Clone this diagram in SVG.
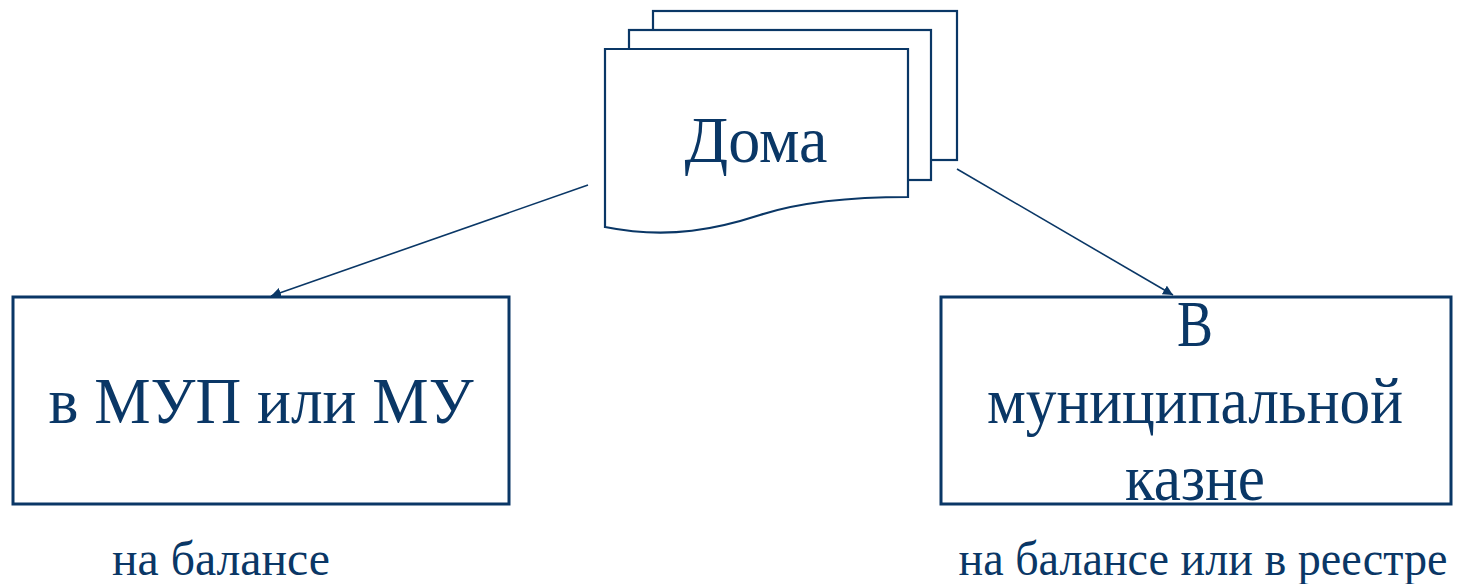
<svg xmlns="http://www.w3.org/2000/svg" width="1471" height="584" viewBox="0 0 1471 584">
<style>
.sh{fill:#fff;stroke:#0a3766;stroke-width:2.2}
.bx{fill:#fff;stroke:#0a3766;stroke-width:3}
.t{font-family:"Liberation Serif","DejaVu Serif Condensed","DejaVu Serif",serif;fill:#0a3766;text-anchor:middle}
.big{font-size:65px}
.sm{font-size:48px}
.cn{stroke:#0a3766;stroke-width:1.6;fill:none;marker-end:url(#ah)}
</style>
<defs>
<marker id="ah" viewBox="0 0 10 10" refX="10" refY="5" markerWidth="10" markerHeight="10" markerUnits="userSpaceOnUse" orient="auto">
<path d="M0,0 L10,5 L0,10 z" fill="#0a3766"/>
</marker>
</defs>
<rect width="1471" height="584" fill="#fff"/>
<g id="node-doma">
<rect class="sh" x="653" y="11" width="304" height="149"/>
<rect class="sh" x="629" y="30" width="302" height="150"/>
<path class="sh" d="M605,49 L908,49 L908,197 C850,197 800,202 760,215 C720,228 670,240 605,227 Z"/>
<text class="t big" x="756" y="162" textLength="143" lengthAdjust="spacingAndGlyphs">Дома</text>
</g>
<g id="node-mup">
<rect class="bx" x="13" y="297" width="496" height="207"/>
<text class="t big" x="261" y="423" textLength="425" lengthAdjust="spacingAndGlyphs">в МУП или МУ</text>
</g>
<g id="node-kazna">
<rect class="bx" x="941" y="297" width="510" height="207"/>
<text class="t big" x="1195" y="346" textLength="36" lengthAdjust="spacingAndGlyphs">В</text>
<text class="t big" x="1195" y="423" textLength="416" lengthAdjust="spacingAndGlyphs">муниципальной</text>
<text class="t big" x="1195" y="500" textLength="140" lengthAdjust="spacingAndGlyphs">казне</text>
</g>
<g id="label-left">
<text class="t sm" x="221" y="575" textLength="218" lengthAdjust="spacingAndGlyphs">на балансе</text>
</g>
<g id="label-right">
<text class="t sm" x="1203" y="575" textLength="489" lengthAdjust="spacingAndGlyphs">на балансе или в реестре</text>
</g>
<g id="connectors">
<line class="cn" x1="588" y1="185" x2="271" y2="296"/>
<line class="cn" x1="957" y1="169" x2="1173" y2="295"/>
</g>
</svg>
